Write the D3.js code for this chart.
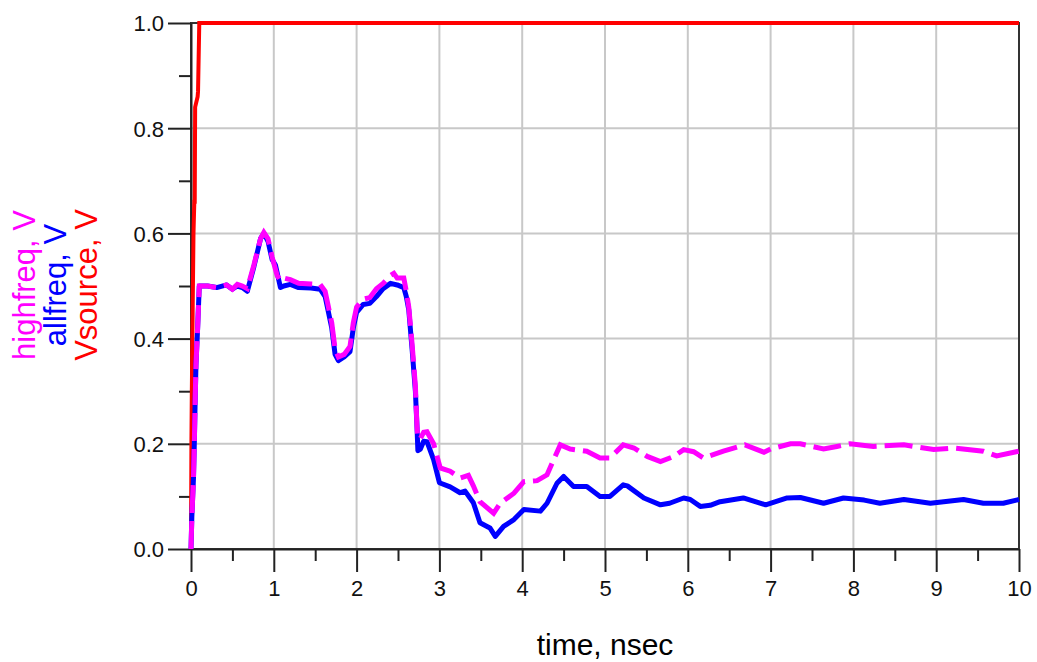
<!DOCTYPE html>
<html>
<head>
<meta charset="utf-8">
<script src="https://cdn.jsdelivr.net/npm/d3@7"></script>
<style>
html,body{margin:0;padding:0;background:#fff;}
svg{display:block;font-family:"Liberation Sans",Arial,sans-serif;}
</style>
</head>
<body>
<svg id="chart" width="1037" height="662"></svg>
<script>
// ---- data ----
const xTicks = [0,1,2,3,4,5,6,7,8,9,10];
const yTicks = [0,0.2,0.4,0.6,0.8,1.0];
const yTickLabels = ["0.0","0.2","0.4","0.6","0.8","1.0"];
const xLabel = "time, nsec";
const seriesNames = ["highfreq, V","allfreq, V","Vsource, V"];

const vsourceT = [0,0.005,0.01,0.02,0.03,0.04,0.045,0.05,0.08,0.085,0.1,10];
const vsourceV = [0,0.2,0.3,0.45,0.6,0.66,0.66,0.84,0.86,0.87,1.0,1.0];

const allfreqT = [0,0.01,0.03,0.04,0.05,0.06,0.08,0.1,0.2,0.31,0.43,0.5,0.56,0.62,0.68,0.76,0.84,0.88,0.93,0.98,1.02,1.08,1.12,1.2,1.3,1.45,1.56,1.62,1.66,1.70,1.74,1.78,1.85,1.92,1.96,2.0,2.08,2.16,2.24,2.32,2.41,2.49,2.57,2.60,2.63,2.67,2.71,2.73,2.74,2.77,2.81,2.85,2.93,3.0,3.13,3.25,3.31,3.41,3.49,3.61,3.675,3.775,3.9,4.02,4.22,4.3,4.42,4.5,4.62,4.78,4.94,5.06,5.22,5.27,5.47,5.67,5.78,5.95,6.03,6.15,6.27,6.39,6.67,6.94,7.2,7.36,7.64,7.88,8.13,8.32,8.61,8.93,9.33,9.57,9.81,10];
const allfreqV = [0,0.06,0.135,0.2,0.28,0.35,0.42,0.5,0.5,0.497,0.502,0.494,0.5,0.497,0.49,0.537,0.59,0.6,0.585,0.55,0.54,0.497,0.5,0.503,0.497,0.496,0.494,0.48,0.45,0.42,0.37,0.358,0.365,0.375,0.42,0.45,0.465,0.467,0.48,0.495,0.505,0.502,0.497,0.48,0.455,0.38,0.3,0.23,0.187,0.19,0.205,0.204,0.17,0.126,0.118,0.107,0.11,0.088,0.05,0.04,0.024,0.043,0.056,0.075,0.072,0.087,0.125,0.138,0.119,0.119,0.1,0.1,0.122,0.12,0.097,0.084,0.087,0.097,0.094,0.081,0.083,0.09,0.097,0.084,0.097,0.098,0.087,0.097,0.093,0.087,0.094,0.087,0.094,0.087,0.087,0.094];

const highfreqT = [0,0.01,0.03,0.04,0.05,0.06,0.08,0.1,0.2,0.31,0.43,0.5,0.56,0.62,0.68,0.76,0.84,0.88,0.93,0.98,1.04,1.08,1.12,1.2,1.3,1.45,1.56,1.62,1.66,1.70,1.74,1.78,1.85,1.92,1.96,2.0,2.08,2.16,2.24,2.32,2.41,2.45,2.49,2.57,2.60,2.63,2.67,2.71,2.73,2.74,2.77,2.81,2.85,2.93,3.01,3.13,3.25,3.35,3.41,3.49,3.655,3.735,3.9,4.02,4.18,4.3,4.38,4.46,4.58,4.78,4.94,5.06,5.22,5.35,5.51,5.67,5.83,5.95,6.07,6.19,6.43,6.69,6.92,7.0,7.24,7.36,7.64,7.8,7.96,8.24,8.61,8.97,9.2,9.57,9.73,10];
const highfreqV = [0,0.06,0.135,0.2,0.28,0.35,0.42,0.5,0.5,0.497,0.502,0.494,0.503,0.5,0.495,0.54,0.59,0.602,0.59,0.555,0.52,0.51,0.515,0.512,0.505,0.504,0.503,0.49,0.46,0.43,0.38,0.365,0.37,0.385,0.43,0.46,0.475,0.478,0.495,0.505,0.52,0.524,0.515,0.515,0.49,0.46,0.39,0.31,0.23,0.21,0.21,0.222,0.223,0.2,0.154,0.148,0.135,0.14,0.12,0.09,0.068,0.087,0.106,0.128,0.13,0.141,0.17,0.198,0.19,0.186,0.173,0.173,0.198,0.192,0.176,0.166,0.176,0.189,0.185,0.173,0.186,0.198,0.184,0.19,0.2,0.2,0.19,0.195,0.2,0.195,0.198,0.189,0.192,0.186,0.177,0.186];

// ---- chart ----
const svg = d3.select("#chart");
const x = d3.scaleLinear().domain([0,10]).range([191,1019]);
const y = d3.scaleLinear().domain([0,1]).range([549,23]);

// grid
const grid = svg.append("g").attr("stroke","#c8c8c8").attr("stroke-width",2);
xTicks.slice(1,-1).forEach(t=>{
  grid.append("line").attr("x1",x(t)).attr("x2",x(t)).attr("y1",y(0)).attr("y2",y(1));
});
yTicks.slice(1,-1).forEach(v=>{
  grid.append("line").attr("x1",x(0)).attr("x2",x(10)).attr("y1",y(v)).attr("y2",y(v));
});

// frame (top/right)
svg.append("rect").attr("x",x(0)).attr("y",y(1)).attr("width",x(10)-x(0)).attr("height",y(0)-y(1))
  .attr("fill","none").attr("stroke","#333").attr("stroke-width",2);

// minor ticks
const xMinor = d3.range(0,10.01,0.5).filter(v=>Math.abs(v-Math.round(v))>0.01);
const yMinor = d3.range(0.1,1.0,0.2);
const gxm = svg.append("g").attr("transform",`translate(0,${y(0)})`)
  .call(d3.axisBottom(x).tickValues(xMinor).tickSize(12).tickFormat(""));
const gym = svg.append("g").attr("transform",`translate(${x(0)},0)`)
  .call(d3.axisLeft(y).tickValues(yMinor).tickSize(12).tickFormat(""));
[gxm,gym].forEach(g=>{g.select(".domain").remove();g.selectAll("line").attr("stroke","#222").attr("stroke-width",2);});

// major axes
const gx = svg.append("g").attr("transform",`translate(0,${y(0)})`)
  .call(d3.axisBottom(x).tickValues(xTicks).tickSize(23).tickSizeOuter(0).tickPadding(8).tickFormat(d3.format("d")));
const gy = svg.append("g").attr("transform",`translate(${x(0)},0)`)
  .call(d3.axisLeft(y).tickValues(yTicks).tickSize(23).tickSizeOuter(0).tickPadding(4).tickFormat((d,i)=>yTickLabels[i]));
[gx,gy].forEach(g=>{
  g.select(".domain").attr("stroke","#222").attr("stroke-width",2);
  g.selectAll("line").attr("stroke","#222").attr("stroke-width",2);
  g.selectAll("text").attr("fill","#111").style("font-size","22px").style("font-family",'"Liberation Sans",Arial,sans-serif');
});
gy.selectAll("text").attr("dy","0.36em");

// lines
const mk = (T,V)=>T.map((t,i)=>[t,V[i]]);
const line = d3.line().x(d=>x(d[0])).y(d=>y(d[1]));
svg.append("path").datum(mk(vsourceT,vsourceV)).attr("d",line)
  .attr("fill","none").attr("stroke","#ff0000").attr("stroke-width",4);
svg.append("path").datum(mk(allfreqT,allfreqV)).attr("d",line)
  .attr("fill","none").attr("stroke","#0000ff").attr("stroke-width",5).attr("stroke-linejoin","round");
svg.append("path").datum(mk(highfreqT,highfreqV)).attr("d",line)
  .attr("fill","none").attr("stroke","#ff00ff").attr("stroke-width",5).attr("stroke-dasharray","28,8");

// axis titles
svg.append("text").attr("x",(x(0)+x(10))/2).attr("y",655).attr("text-anchor","middle")
  .style("font-size","30px").attr("fill","#000").text(xLabel);
const yColors = ["#ff00ff","#0000ff","#ff0000"];
const yBase = [35,66,97];
seriesNames.forEach((s,i)=>{
  svg.append("text").attr("transform",`translate(${yBase[i]},285) rotate(-90)`)
    .attr("text-anchor","middle").style("font-size","31px").attr("fill",yColors[i]).text(s);
});
</script>
</body>
</html>
